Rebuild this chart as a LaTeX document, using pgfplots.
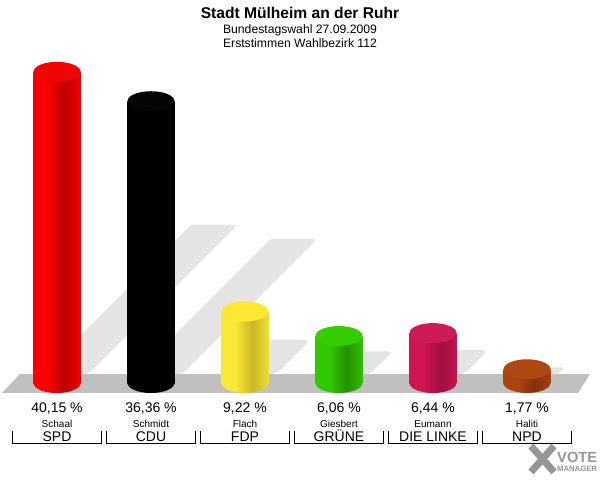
\documentclass[border=0pt]{standalone}
\usepackage{pgfplots}
\pgfplotsset{compat=1.18}
\usepackage{fontspec}
\setmainfont{Liberation Sans}
\usetikzlibrary{shapes.geometric}

\definecolor{redL}{RGB}{252,0,0}\definecolor{redD}{RGB}{188,0,0}\definecolor{redR}{RGB}{245,0,0}\definecolor{redT}{RGB}{240,4,4}
\definecolor{blkL}{RGB}{0,0,0}\definecolor{blkD}{RGB}{0,0,0}\definecolor{blkR}{RGB}{0,0,0}\definecolor{blkT}{RGB}{4,4,4}
\definecolor{yelL}{RGB}{250,232,55}\definecolor{yelD}{RGB}{202,182,36}\definecolor{yelR}{RGB}{240,222,50}\definecolor{yelT}{RGB}{252,232,48}
\definecolor{grnL}{RGB}{50,200,0}\definecolor{grnD}{RGB}{36,146,0}\definecolor{grnR}{RGB}{48,190,0}\definecolor{grnT}{RGB}{52,206,0}
\definecolor{magL}{RGB}{206,22,82}\definecolor{magD}{RGB}{160,15,64}\definecolor{magR}{RGB}{196,20,78}\definecolor{magT}{RGB}{206,26,86}
\definecolor{brnL}{RGB}{172,68,18}\definecolor{brnD}{RGB}{130,48,12}\definecolor{brnR}{RGB}{165,65,18}\definecolor{brnT}{RGB}{176,72,20}
\definecolor{floorgray}{RGB}{192,192,192}
\definecolor{shadowgray}{RGB}{228,228,228}
\definecolor{logogray}{RGB}{150,150,150}

\pgfdeclarehorizontalshading{cylred}{100bp}{color(0bp)=(redL); color(25bp)=(redL); color(40bp)=(redL); color(58bp)=(redD); color(75bp)=(redR); color(100bp)=(redR)}
\pgfdeclarehorizontalshading{cylblk}{100bp}{color(0bp)=(blkL); color(25bp)=(blkL); color(40bp)=(blkL); color(58bp)=(blkD); color(75bp)=(blkR); color(100bp)=(blkR)}
\pgfdeclarehorizontalshading{cylyel}{100bp}{color(0bp)=(yelL); color(25bp)=(yelL); color(40bp)=(yelL); color(58bp)=(yelD); color(75bp)=(yelR); color(100bp)=(yelR)}
\pgfdeclarehorizontalshading{cylgrn}{100bp}{color(0bp)=(grnL); color(25bp)=(grnL); color(40bp)=(grnL); color(58bp)=(grnD); color(75bp)=(grnR); color(100bp)=(grnR)}
\pgfdeclarehorizontalshading{cylmag}{100bp}{color(0bp)=(magL); color(25bp)=(magL); color(40bp)=(magL); color(58bp)=(magD); color(75bp)=(magR); color(100bp)=(magR)}
\pgfdeclarehorizontalshading{cylbrn}{100bp}{color(0bp)=(brnL); color(25bp)=(brnL); color(40bp)=(brnL); color(58bp)=(brnD); color(75bp)=(brnR); color(100bp)=(brnR)}

\pgfplotsset{
  cylbottom/.style={draw=none, mark=none, nodes near coords={},
    every node near coord/.style={ellipse, draw=none, shading=#1, minimum width=47pt, minimum height=20pt, inner sep=0pt, anchor=center}},
  cylbody/.style={ybar, bar width=47pt, bar shift=0pt, draw=none, shading=#1},
  cyltop/.style={draw=none, mark=none, nodes near coords={},
    every node near coord/.style={ellipse, draw=none, fill=#1, minimum width=47pt, minimum height=20pt, inner sep=0pt, anchor=center}},
}

\begin{document}
\begin{tikzpicture}[x=1pt,y=1pt]
\fill[white] (0,0) rectangle (600,480);
\path[use as bounding box] (0,0) rectangle (600,480);
\begin{axis}[at={(10pt,97pt)}, anchor=south west, scale only axis,
  width=564pt, height=348.75pt, xmin=-0.5, xmax=5.5, ymin=0, ymax=45,
  hide axis, clip=false]
% shadows
\addplot[fill=shadowgray, draw=none, rounded corners=5pt] coordinates {(-0.16,1.16) (0.33,1.16) (1.92,20.43) (1.43,20.43)};
\addplot[fill=shadowgray, draw=none, rounded corners=5pt] coordinates {(0.84,1.16) (1.33,1.16) (2.77,18.61) (2.28,18.61)};
\addplot[fill=shadowgray, draw=none, rounded corners=5pt] coordinates {(1.84,1.16) (2.33,1.16) (2.695,5.59) (2.205,5.59)};
\addplot[fill=shadowgray, draw=none, rounded corners=5pt] coordinates {(2.84,1.16) (3.33,1.16) (3.57,4.07) (3.08,4.07)};
\addplot[fill=shadowgray, draw=none, rounded corners=5pt] coordinates {(3.84,1.16) (4.33,1.16) (4.585,4.25) (4.095,4.25)};
\addplot[fill=shadowgray, draw=none, rounded corners=3pt] coordinates {(4.84,1.16) (5.33,1.16) (5.40,2.01) (4.91,2.01)};
% floor
\addplot[fill=floorgray, draw=none] coordinates {(-0.394,1.16) (5.670,1.16) (5.543,-1.29) (-0.585,-1.29)};
% cylinder bottoms
\addplot[cylbottom=cylred] coordinates {(0,0)};
\addplot[cylbottom=cylblk] coordinates {(1,0)};
\addplot[cylbottom=cylyel] coordinates {(2,0)};
\addplot[cylbottom=cylgrn] coordinates {(3,0)};
\addplot[cylbottom=cylmag] coordinates {(4,0)};
\addplot[cylbottom=cylbrn] coordinates {(5,0)};
% bodies
\addplot[cylbody=cylred] coordinates {(0,40.15)};
\addplot[cylbody=cylblk] coordinates {(1,36.36)};
\addplot[cylbody=cylyel] coordinates {(2,9.22)};
\addplot[cylbody=cylgrn] coordinates {(3,6.06)};
\addplot[cylbody=cylmag] coordinates {(4,6.44)};
\addplot[cylbody=cylbrn] coordinates {(5,1.77)};
% tops
\addplot[cyltop=redT] coordinates {(0,40.15)};
\addplot[cyltop=blkT] coordinates {(1,36.36)};
\addplot[cyltop=yelT] coordinates {(2,9.22)};
\addplot[cyltop=grnT] coordinates {(3,6.06)};
\addplot[cyltop=magT] coordinates {(4,6.44)};
\addplot[cyltop=brnT] coordinates {(5,1.77)};
% labels
\foreach \i/\p/\c/\n in {0/{40,15 \%}/Schaal/SPD, 1/{36,36 \%}/Schmidt/CDU, 2/{9,22 \%}/Flach/FDP, 3/{6,06 \%}/Giesbert/GRÜNE, 4/{6,44 \%}/Eumann/DIE LINKE, 5/{1,77 \%}/Haliti/NPD}{
  \edef\temp{\noexpand\node[anchor=base, inner sep=0pt] at (axis cs:\i,-3.87) {\noexpand\fontsize{14}{16}\noexpand\selectfont \p};
  \noexpand\node[anchor=base, inner sep=0pt] at (axis cs:\i,-5.68) {\noexpand\fontsize{10}{12}\noexpand\selectfont \c};
  \noexpand\node[anchor=base, inner sep=0pt] at (axis cs:\i,-7.61) {\noexpand\fontsize{14}{16}\noexpand\selectfont \n};
  \noexpand\draw[line width=1pt] (axis cs:\i-0.476,-6.25) |- (axis cs:\i+0.476,-7.78) -- (axis cs:\i+0.476,-6.25);}
  \temp
}
\end{axis}
% titles
\node[anchor=base, inner sep=0pt] at (300,461.7) {\fontsize{15.6}{18}\selectfont\bfseries Stadt Mülheim an der Ruhr};
\node[anchor=base, inner sep=0pt] at (300,446.7) {\fontsize{12.2}{14}\selectfont Bundestagswahl 27.09.2009};
\node[anchor=base, inner sep=0pt] at (300,432.7) {\fontsize{12.2}{14}\selectfont Erststimmen Wahlbezirk 112};
% logo
\draw[line width=7pt, logogray] (531,34) -- (554,8);
\draw[line width=7pt, logogray] (554,34) -- (531,8);
\node[anchor=base west, inner sep=0pt, text=logogray] at (557,18) {\fontsize{14.7}{16}\selectfont\bfseries VOTE};
\node[anchor=base west, inner sep=0pt, text=logogray] at (557,9) {\fontsize{7.7}{9}\selectfont\bfseries MANAGER};
\end{tikzpicture}
\end{document}
